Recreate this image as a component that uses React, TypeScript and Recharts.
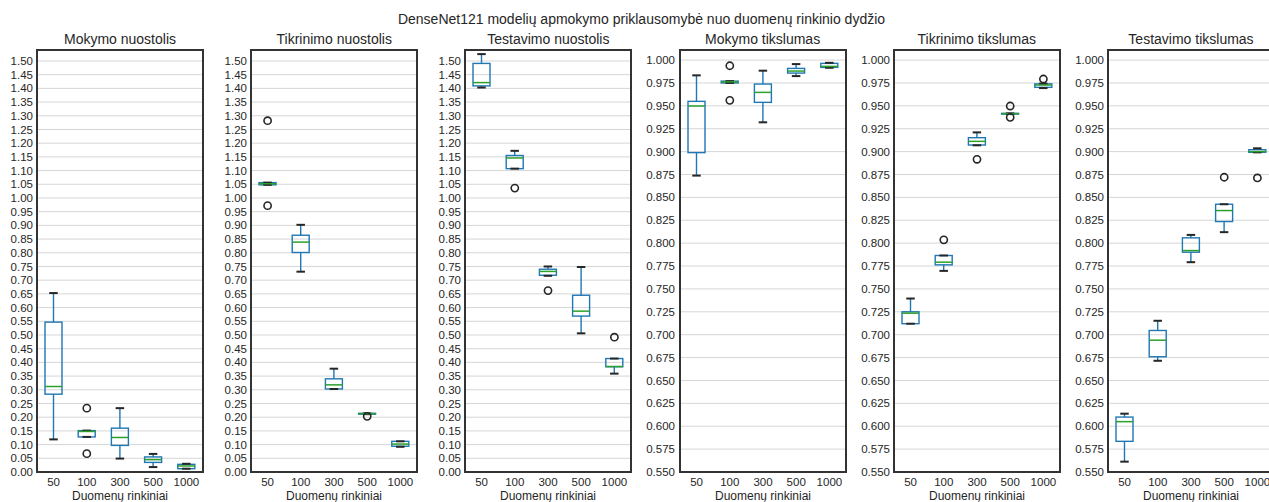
import { ComposedChart, Bar, Scatter, XAxis, YAxis, CartesianGrid } from 'recharts';

const categories = ['50', '100', '300', '500', '1000'];

// [min, q1, median, q3, max] for each dataset size
const mokymoNuostolis = [
  [0.119, 0.284, 0.312, 0.547, 0.653],
  [0.128, 0.128, 0.148, 0.151, 0.151],
  [0.049, 0.097, 0.126, 0.160, 0.233],
  [0.018, 0.035, 0.045, 0.055, 0.066],
  [0.012, 0.012, 0.022, 0.028, 0.030],
];
const mokymoNuostolisOut = [[], [0.233, 0.067], [], [], []];

const tikrinimoNuostolis = [
  [1.048, 1.048, 1.052, 1.056, 1.056],
  [0.731, 0.801, 0.839, 0.864, 0.902],
  [0.303, 0.303, 0.318, 0.340, 0.377],
  [0.211, 0.211, 0.213, 0.214, 0.214],
  [0.092, 0.094, 0.102, 0.112, 0.112],
];
const tikrinimoNuostolisOut = [[1.282, 0.972], [], [], [0.203], []];

const testavimoNuostolis = [
  [1.403, 1.409, 1.421, 1.491, 1.525],
  [1.107, 1.107, 1.146, 1.155, 1.172],
  [0.716, 0.718, 0.732, 0.740, 0.750],
  [0.506, 0.569, 0.587, 0.645, 0.748],
  [0.359, 0.384, 0.385, 0.414, 0.414],
];
const testavimoNuostolisOut = [[], [1.036], [0.662], [], [0.492]];

const mokymoTikslumas = [
  [0.8738, 0.8989, 0.9498, 0.9549, 0.9833],
  [0.9750, 0.9750, 0.9762, 0.9770, 0.9770],
  [0.9320, 0.9538, 0.9647, 0.9738, 0.9884],
  [0.9825, 0.9858, 0.9880, 0.9909, 0.9956],
  [0.9916, 0.9920, 0.9931, 0.9964, 0.9970],
];
const mokymoTikslumasOut = [[], [0.9938, 0.956], [], [], []];

const tikrinimoTikslumas = [
  [0.7120, 0.7120, 0.7235, 0.7250, 0.7395],
  [0.7697, 0.7763, 0.7792, 0.7865, 0.7865],
  [0.9069, 0.9072, 0.9112, 0.9152, 0.9210],
  [0.9410, 0.9410, 0.9414, 0.9418, 0.9418],
  [0.9694, 0.9702, 0.9727, 0.9740, 0.9742],
];
const tikrinimoTikslumasOut = [[], [0.8036], [0.8916], [0.9498, 0.9374], [0.9793]];

const testavimoTikslumas = [
  [0.5613, 0.5835, 0.6050, 0.6100, 0.6137],
  [0.6715, 0.6759, 0.6940, 0.7046, 0.7152],
  [0.7792, 0.7901, 0.7919, 0.8058, 0.8090],
  [0.8120, 0.8236, 0.8356, 0.8425, 0.8425],
  [0.8992, 0.8992, 0.9000, 0.9021, 0.9036],
];
const testavimoTikslumasOut = [[], [], [], [0.872], [0.8712]];

const lossTicks = [
  0, 0.05, 0.1, 0.15, 0.2, 0.25, 0.3, 0.35, 0.4, 0.45, 0.5, 0.55, 0.6, 0.65, 0.7, 0.75,
  0.8, 0.85, 0.9, 0.95, 1.0, 1.05, 1.1, 1.15, 1.2, 1.25, 1.3, 1.35, 1.4, 1.45, 1.5,
];
const accTicks = [
  0.55, 0.575, 0.6, 0.625, 0.65, 0.675, 0.7, 0.725, 0.75, 0.775, 0.8, 0.825, 0.85, 0.875,
  0.9, 0.925, 0.95, 0.975, 1.0,
];

const panels = [
  { title: 'Mokymo nuostolis', stats: mokymoNuostolis, out: mokymoNuostolisOut, loss: true },
  { title: 'Tikrinimo nuostolis', stats: tikrinimoNuostolis, out: tikrinimoNuostolisOut, loss: true },
  { title: 'Testavimo nuostolis', stats: testavimoNuostolis, out: testavimoNuostolisOut, loss: true },
  { title: 'Mokymo tikslumas', stats: mokymoTikslumas, out: mokymoTikslumasOut, loss: false },
  { title: 'Tikrinimo tikslumas', stats: tikrinimoTikslumas, out: tikrinimoTikslumasOut, loss: false },
  { title: 'Testavimo tikslumas', stats: testavimoTikslumas, out: testavimoTikslumasOut, loss: false },
];

const FONT = '"Liberation Sans", Arial, sans-serif';
const BLUE = '#1f77b4';
const GREEN = '#2ca02c';
const DARK = '#262626';
const PLOT_W = 166;
const PLOT_TOP = 50;
const PLOT_H = 422;
const Y_W = 40;
const BOX_W = 17;

function buildRows(stats: number[][], out: number[][]) {
  return categories.map((cat, i) => {
    const [mn, q1, med, q3, mx] = stats[i];
    return {
      cat,
      lower: [mn, q1],
      box: [q1, q3],
      upper: [q3, mx],
      median: med,
      out1: out[i][0] ?? null,
      out2: out[i][1] ?? null,
    };
  });
}

function BoxShape(p: any) {
  const top = Math.min(p.y, p.y + p.height);
  const h = Math.abs(p.height);
  return <rect x={p.x} y={top} width={p.width} height={h} fill="none" stroke={BLUE} strokeWidth={1.4} />;
}

function whiskerShape(capAtTop: boolean) {
  return (p: any) => {
    const top = Math.min(p.y, p.y + p.height);
    const bottom = Math.max(p.y, p.y + p.height);
    const cx = p.x + p.width / 2;
    const capY = capAtTop ? top : bottom;
    return (
      <g>
        <line x1={cx} x2={cx} y1={top} y2={bottom} stroke={BLUE} strokeWidth={1.4} />
        <line x1={cx - p.width / 4} x2={cx + p.width / 4} y1={capY} y2={capY} stroke={DARK} strokeWidth={2} />
      </g>
    );
  };
}

function MedianShape(p: any) {
  if (p.cx == null || p.cy == null) return <g />;
  return <line x1={p.cx - BOX_W / 2} x2={p.cx + BOX_W / 2} y1={p.cy} y2={p.cy} stroke={GREEN} strokeWidth={1.5} />;
}

function outlierShape(key: string) {
  return (p: any) => {
    if (p.payload == null || p.payload[key] == null || p.cy == null || isNaN(p.cy)) return <g />;
    return <circle cx={p.cx} cy={p.cy} r={3.6} fill="none" stroke={DARK} strokeWidth={1.6} />;
  };
}

function Panel({ idx }: { idx: number }) {
  const cfg = panels[idx];
  const plotLeft = 37 + idx * 214.2;
  const rows = buildRows(cfg.stats, cfg.out);
  const ticks = cfg.loss ? lossTicks : accTicks;
  const domain = cfg.loss ? [0, 1.54] : [0.55, 1.011];
  const digits = cfg.loss ? 2 : 3;
  return (
    <>
      <div
        style={{
          position: 'absolute',
          left: plotLeft,
          width: PLOT_W,
          top: 30,
          textAlign: 'center',
          fontFamily: FONT,
          fontSize: 14,
          color: DARK,
          lineHeight: '18px',
          whiteSpace: 'nowrap',
        }}
      >
        {cfg.title}
      </div>
      <div style={{ position: 'absolute', left: plotLeft - Y_W, top: 0 }}>
        <ComposedChart
          width={Y_W + PLOT_W + 8}
          height={502}
          data={rows}
          margin={{ top: PLOT_TOP, right: 8, bottom: 0, left: 0 }}
          barSize={BOX_W}
          barGap={-BOX_W}
        >
          <CartesianGrid vertical={false} stroke="#d6d6d6" strokeWidth={1} />
          <XAxis
            dataKey="cat"
            type="category"
            height={30}
            tickLine={false}
            axisLine={false}
            tickSize={0}
            tickMargin={6}
            interval={0}
            tick={{ fontFamily: FONT, fontSize: 11.5, fill: DARK }}
            label={{
              value: 'Duomenų rinkiniai',
              position: 'insideBottom',
              offset: 2,
              style: { fontFamily: FONT, fontSize: 12, fill: DARK },
            }}
          />
          <YAxis
            type="number"
            width={Y_W}
            domain={domain}
            ticks={ticks}
            allowDataOverflow
            interval={0}
            tickLine={false}
            axisLine={false}
            tickSize={0}
            tickMargin={idx === 3 ? 5 : 4}
            tickFormatter={(v: number) => v.toFixed(digits)}
            tick={{ fontFamily: FONT, fontSize: 11.5, fill: DARK }}
          />
          <Bar dataKey="box" shape={BoxShape} isAnimationActive={false} />
          <Scatter dataKey="median" shape={MedianShape} isAnimationActive={false} />
          <Bar dataKey="lower" shape={whiskerShape(false)} isAnimationActive={false} />
          <Bar dataKey="upper" shape={whiskerShape(true)} isAnimationActive={false} />
          <Scatter dataKey="out1" shape={outlierShape('out1')} isAnimationActive={false} />
          <Scatter dataKey="out2" shape={outlierShape('out2')} isAnimationActive={false} />
        </ComposedChart>
      </div>
      <div
        style={{
          position: 'absolute',
          left: plotLeft - 1,
          top: PLOT_TOP - 1,
          width: PLOT_W + 2,
          height: PLOT_H + 2,
          border: '2px solid #333',
          boxSizing: 'border-box',
          pointerEvents: 'none',
        }}
      />
    </>
  );
}

export default function App() {
  return (
    <div
      style={{
        position: 'absolute',
        left: 0,
        top: 0,
        width: 1269,
        height: 502,
        overflow: 'hidden',
        background: '#fff',
      }}
    >
      <div
        style={{
          position: 'absolute',
          left: 0,
          width: 1283,
          top: 10,
          textAlign: 'center',
          fontFamily: FONT,
          fontSize: 14,
          color: DARK,
          lineHeight: '18px',
          whiteSpace: 'nowrap',
        }}
      >
        DenseNet121 modelių apmokymo priklausomybė nuo duomenų rinkinio dydžio
      </div>
      {panels.map((_, i) => (
        <Panel key={i} idx={i} />
      ))}
    </div>
  );
}
